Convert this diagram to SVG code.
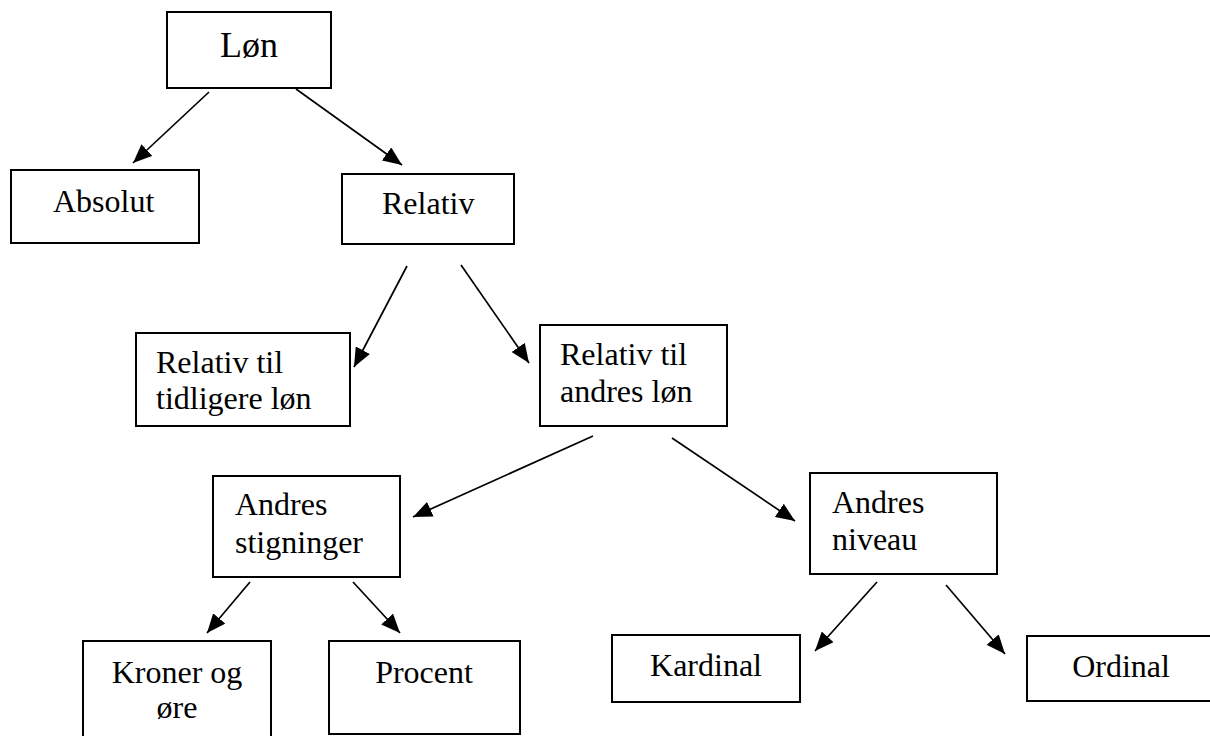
<svg xmlns="http://www.w3.org/2000/svg" width="1210" height="736" viewBox="0 0 1210 736">
<defs>
<style>
.box{fill:#fff;stroke:#000;stroke-width:2}
.t{font-family:"Liberation Serif","Times New Roman",serif;font-size:32px;fill:#000}
.m{text-anchor:middle}
.conn line{stroke:#000;stroke-width:1.7;marker-end:url(#ah)}
</style>
<marker id="ah" markerUnits="userSpaceOnUse" markerWidth="20" markerHeight="16" refX="19" refY="8" orient="auto">
<path d="M0,0 L19,8 L0,16 Z" fill="#000"/>
</marker>
</defs>
<rect width="1210" height="736" fill="#fff"/>
<g id="connectors" class="conn">
<line x1="209" y1="92" x2="133" y2="163"/>
<line x1="296" y1="89" x2="402" y2="165"/>
<line x1="407" y1="266" x2="354" y2="367"/>
<line x1="461" y1="265" x2="529" y2="363"/>
<line x1="593" y1="436" x2="413" y2="517"/>
<line x1="672" y1="438" x2="795" y2="521"/>
<line x1="250" y1="582" x2="207" y2="633"/>
<line x1="353" y1="582" x2="400" y2="633"/>
<line x1="877" y1="582" x2="815" y2="651"/>
<line x1="946" y1="585" x2="1005" y2="654"/>
</g>
<g id="lon"><rect class="box" x="167" y="12" width="164" height="76"/><text class="t m" x="249" y="57" style="font-size:36px">Løn</text></g>
<g id="absolut"><rect class="box" x="11" y="170" width="188" height="73"/><text class="t" x="53" y="212">Absolut</text></g>
<g id="relativ"><rect class="box" x="342" y="174" width="172" height="70"/><text class="t" x="382" y="214">Relativ</text></g>
<g id="tidligere"><rect class="box" x="136" y="333" width="214" height="93"/><text class="t" x="156" y="373">Relativ til</text><text class="t" x="156" y="409">tidligere løn</text></g>
<g id="andres"><rect class="box" x="540" y="325" width="187" height="101"/><text class="t" x="560" y="365">Relativ til</text><text class="t" x="560" y="402">andres løn</text></g>
<g id="stigninger"><rect class="box" x="213" y="476" width="187" height="101"/><text class="t" x="235" y="515">Andres</text><text class="t" x="235" y="553">stigninger</text></g>
<g id="niveau"><rect class="box" x="810" y="473" width="187" height="101"/><text class="t" x="832" y="513">Andres</text><text class="t" x="832" y="550">niveau</text></g>
<g id="kroner"><rect class="box" x="83" y="641" width="188" height="102"/><text class="t m" x="177" y="683">Kroner og</text><text class="t m" x="177" y="718">øre</text></g>
<g id="procent"><rect class="box" x="329" y="641" width="191" height="93"/><text class="t m" x="424" y="683">Procent</text></g>
<g id="kardinal"><rect class="box" x="612" y="635" width="188" height="67"/><text class="t m" x="706" y="676">Kardinal</text></g>
<g id="ordinal"><rect class="box" x="1027" y="636" width="190" height="65"/><text class="t m" x="1121" y="677">Ordinal</text></g>
</svg>
